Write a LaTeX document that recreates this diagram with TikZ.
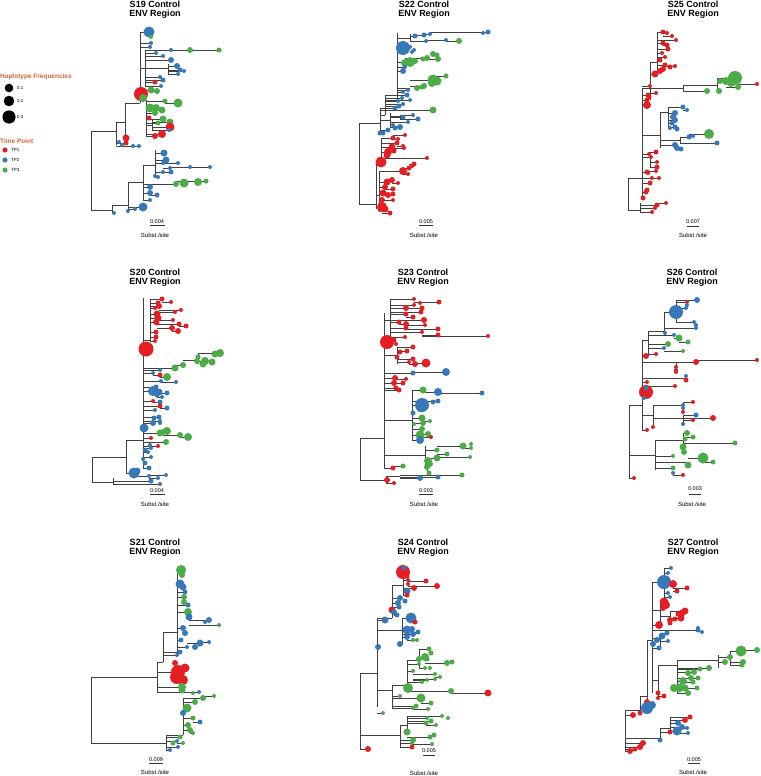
\documentclass[tikz,border=0pt]{standalone}
\usepackage{fontspec}
\setmainfont{Liberation Sans}
\definecolor{R}{RGB}{228,30,34}
\definecolor{B}{RGB}{55,120,185}
\definecolor{G}{RGB}{75,172,72}
\definecolor{legc}{RGB}{205,105,55}
\newif\ifdotpass
\tikzset{br/.style={draw=black!75,line width=0.55pt},
 ttl/.style={font=\bfseries\fontsize{9}{10}\selectfont,inner sep=0pt},
 sml/.style={font=\fontsize{5.5}{6}\selectfont,inner sep=0pt},
 sst/.style={font=\fontsize{6}{7}\selectfont,inner sep=0pt},
 legt/.style={font=\bfseries\fontsize{6.5}{7}\selectfont,text=legc,inner sep=0pt,anchor=west},
 legl/.style={font=\fontsize{4.5}{5}\selectfont,inner sep=0pt,anchor=west}}
\newcommand\tp[5]{\ifdotpass\fill[#4] (#2,#3) circle[radius=#5pt];\else\draw[br] (#1,#3) -- (#2,#3);\fi}
\newcommand\dt[4]{\ifdotpass\fill[#3] (#1,#2) circle[radius=#4pt];\fi}
\newcommand\vs[3]{\ifdotpass\else\draw[br] (#1,#2) -- (#1,#3);\fi}
\newcommand\hs[3]{\ifdotpass\else\draw[br] (#1,#3) -- (#2,#3);\fi}
\newcommand\panel[5]{%
 \node[ttl] (#4a) at (#1,#2) {#5 Control};
 \node[ttl] (#4b) at (#1,#3) {ENV Region};}
\newcommand\scl[6]{%
 \node[sml] (sc#3#1) at (#1,#2) {#3};
 \draw[black!80,line width=0.5pt] (#4,#6) -- (#5,#6);}
\newcommand\treedata{%
% ================= S19
\vs{91}{131}{210}\hs{91}{116}{131}\vs{116}{122}{145}\hs{116}{125}{122}
\vs{125}{103}{138}\hs{125}{140}{103}\vs{140}{32}{103}\hs{140}{146}{100}
\vs{146}{100}{136}\vs{145}{50}{86}\hs{140}{145}{68}\hs{145}{168}{68}\vs{168}{64}{74}
\vs{152}{120}{130}\hs{146}{152}{125}
\tp{140}{149}{32}{B}{5.5}\tp{149}{151}{37}{G}{2}\tp{140}{151}{43}{B}{2}\tp{140}{150}{47}{B}{2}
\tp{145}{156}{53}{B}{2}\tp{145}{163}{56}{B}{2}\tp{145}{171}{50}{B}{2}\tp{171}{190}{50}{G}{3}\tp{190}{219}{50}{G}{2.5}
\tp{145}{171}{60}{B}{3}\tp{168}{177}{66}{B}{3}\tp{168}{180}{70}{B}{2.5}\tp{168}{184}{71}{B}{2}\tp{168}{178}{74}{B}{2}
\tp{145}{163}{80}{B}{2.5}\tp{145}{160}{77}{B}{2}\tp{145}{155}{82}{R}{2.5}\tp{145}{161}{86}{B}{2}
\tp{140}{141}{94}{R}{7}\tp{140}{151}{90}{G}{3.5}\tp{151}{157}{91}{G}{3}\tp{140}{143}{98}{G}{4}
\tp{146}{165}{101}{G}{2.5}\tp{165}{178}{103}{G}{4.5}\tp{146}{150}{108}{G}{4.5}\tp{146}{156}{108}{G}{4}
\tp{146}{162}{110}{G}{3.5}\tp{146}{155}{113}{G}{3}\tp{146}{149}{118}{R}{2.5}\tp{146}{163}{119}{G}{3.5}
\tp{152}{170}{122}{G}{3.5}\tp{146}{158}{123}{G}{2.5}\tp{152}{170}{127}{R}{4.5}\tp{152}{169}{130}{B}{2}
\tp{146}{162}{134}{R}{4}\tp{146}{155}{136}{R}{3}
\tp{125}{126}{138}{R}{3.5}\tp{116}{126}{143}{R}{2.5}\tp{116}{119}{142}{B}{2}\tp{116}{139}{146}{B}{2}
\dt{122}{145}{B}{2}\dt{133}{146}{B}{2}
\hs{91}{112}{210}\vs{112}{205}{213}\tp{112}{114}{213}{B}{2}\hs{112}{128}{205}\vs{128}{182}{211}
\tp{128}{143}{207}{B}{4.5}\tp{128}{135}{209}{B}{2}\dt{128}{211}{B}{2}
\hs{128}{143}{182}\vs{143}{165}{200}
\tp{143}{150}{187}{B}{3}\tp{143}{150}{193}{B}{3}\tp{150}{157}{195}{B}{2.5}\tp{143}{150}{200}{B}{2}
\tp{143}{176}{184}{G}{3}\dt{184}{183}{G}{4.5}\dt{198}{182}{G}{4}\tp{176}{206}{181}{G}{2.5}
\hs{143}{155}{165}\vs{155}{150}{178}
\tp{155}{164}{153}{B}{3.5}\tp{155}{166}{160}{B}{3.5}\tp{155}{163}{163}{B}{2}\tp{163}{178}{163}{B}{2}
\tp{163}{170}{168}{B}{2}\tp{170}{210}{167}{B}{2}\dt{190}{167}{B}{2}
\tp{155}{163}{172}{B}{2}\tp{155}{171}{172}{B}{2.5}\tp{155}{158}{177}{B}{2}\dt{155}{176}{B}{2}
% ================= S22
\vs{359}{123}{204}\hs{359}{380}{123}\vs{380}{108}{133}\hs{380}{385}{115}\vs{385}{95}{115}
\hs{385}{397}{95}\vs{397}{33}{100}\hs{359}{376}{204}\vs{376}{162}{209}\hs{376}{381}{162}
\vs{381}{138}{162}\hs{376}{379}{195}\vs{379}{171}{212}
\tp{397}{403}{48}{B}{7}\dt{410}{47}{B}{2}\dt{412}{52}{B}{2}\dt{414}{50}{B}{2}
\hs{397}{410}{38}\vs{410}{34}{42}
\tp{410}{415}{36}{B}{2.5}\tp{415}{424}{35}{B}{2.5}\tp{424}{430}{34}{B}{2}\tp{430}{488}{32}{B}{2.5}\dt{483}{33}{B}{2}
\tp{410}{426}{41}{B}{2}\tp{426}{446}{40}{B}{2}\tp{446}{459}{41}{G}{3}
\hs{397}{405}{62}\dt{410}{62}{G}{5}\dt{405}{63}{G}{4}\dt{415}{61}{G}{3}
\tp{405}{427}{58}{G}{3}\tp{427}{438}{59}{G}{3}\dt{433}{54}{G}{3}\dt{437}{55}{G}{2.5}\dt{423}{59}{G}{2.5}
\tp{397}{403}{71}{B}{3}\tp{397}{405}{67}{B}{2}
\hs{397}{410}{88}\tp{410}{424}{86}{G}{3}\tp{410}{433}{80}{G}{5.5}\dt{437}{81}{G}{4.5}\dt{432}{83}{G}{4}
\tp{437}{446}{76}{G}{2.5}\dt{417}{88}{G}{3}\dt{422}{87}{G}{2.5}
\tp{397}{408}{90}{B}{2}\tp{397}{403}{92}{B}{2}\tp{385}{407}{95}{B}{2.5}\tp{385}{402}{98}{B}{2}
\tp{385}{410}{100}{B}{2}\tp{385}{398}{101}{B}{2}\tp{385}{399}{106}{B}{2.5}\tp{380}{395}{108}{B}{2.5}\tp{385}{403}{104}{B}{2}
\tp{380}{433}{110}{G}{3.5}\vs{390}{113}{128}\hs{380}{390}{120}\hs{390}{400}{116}\vs{400}{115}{119}
\tp{400}{418}{119}{B}{2.5}\tp{400}{413}{115}{B}{2}\tp{390}{403}{117}{B}{2.5}\tp{390}{408}{122}{B}{2}
\tp{390}{400}{127}{B}{3}\dt{395}{128}{B}{2.5}\tp{380}{388}{130}{B}{2.5}\dt{383}{133}{B}{2.5}\dt{380}{133}{B}{2.5}\tp{390}{393}{125}{B}{2}
\tp{381}{393}{138}{R}{2.5}\tp{393}{398}{139}{R}{2}\tp{393}{405}{135}{R}{2}\tp{381}{397}{143}{R}{2.5}
\tp{397}{403}{146}{R}{2}\tp{381}{392}{147}{R}{3.5}\tp{381}{388}{152}{R}{4}\dt{387}{155}{R}{3.5}
\tp{388}{394}{151}{R}{2.5}\tp{394}{404}{148}{R}{2}
\tp{381}{427}{158}{R}{2}\tp{376}{381}{162}{R}{5.5}
\tp{379}{403}{171}{R}{4}\tp{403}{409}{168}{R}{2.5}\tp{409}{414}{164}{R}{2.5}\tp{403}{408}{174}{R}{2}\dt{412}{166}{R}{2}
\tp{379}{387}{182}{R}{3.5}\tp{387}{392}{180}{R}{3}\tp{392}{398}{183}{R}{2}\tp{379}{385}{187}{R}{3}
\tp{385}{393}{189}{R}{2.5}\tp{379}{383}{193}{R}{3.5}\tp{383}{388}{195}{R}{3}\tp{388}{393}{194}{R}{2.5}
\tp{379}{382}{200}{R}{3}\tp{382}{393}{200}{R}{2}\tp{379}{382}{207}{R}{5}\dt{385}{209}{R}{3.5}
\tp{382}{390}{213}{R}{2.5}\dt{380}{209}{R}{2.5}
% ================= S25
\vs{628}{178}{210}\hs{628}{642}{178}\hs{628}{640}{210}\vs{642}{88}{198}\hs{642}{650}{88}
\vs{650}{62}{100}\hs{650}{657}{62}\vs{657}{32}{71}\vs{640}{203}{212}
\tp{657}{663}{32}{R}{2.5}\tp{663}{672}{36}{R}{2}\dt{667}{33}{R}{2}\tp{657}{676}{40}{R}{2}
\tp{657}{663}{43}{R}{2.5}\tp{663}{667}{45}{R}{2.5}\tp{657}{668}{49}{R}{2.5}\tp{657}{662}{53}{R}{2}
\tp{657}{665}{57}{R}{2}\tp{657}{660}{60}{R}{2.5}\tp{657}{665}{65}{R}{2.5}\tp{665}{675}{66}{R}{2}
\dt{670}{67}{R}{2.5}\tp{657}{663}{69}{R}{3}\dt{660}{71}{R}{3}
\tp{650}{655}{74}{R}{3.5}\tp{650}{656}{93}{R}{2}\tp{642}{650}{86}{R}{2}\tp{642}{648}{95}{R}{2.5}
\dt{649}{97}{R}{2.5}\tp{642}{647}{100}{R}{2.5}\tp{642}{647}{105}{R}{4}
\hs{650}{683}{88}\vs{683}{85}{91}\tp{683}{707}{91}{G}{3}\hs{683}{717}{85}\vs{717}{78}{91}
\tp{717}{735}{78}{G}{7}\tp{717}{726}{81}{G}{4}\dt{731}{83}{G}{4}\dt{720}{81}{G}{3}
\tp{726}{738}{87}{G}{3}\tp{717}{719}{91}{G}{3}\tp{738}{757}{84}{R}{2}
\hs{642}{660}{135}\vs{660}{112}{148}\hs{660}{668}{112}\vs{668}{107}{129}
\tp{668}{683}{107}{B}{2.5}\tp{683}{687}{110}{B}{2}\tp{668}{675}{113}{B}{3}\dt{673}{117}{B}{3}
\tp{668}{675}{120}{B}{3}\tp{668}{672}{123}{B}{2.5}\tp{668}{675}{127}{B}{2.5}\dt{670}{128}{B}{2}\dt{677}{129}{B}{2.5}
\hs{660}{680}{140}\vs{680}{137}{143}\tp{680}{689}{137}{B}{2.5}\tp{689}{709}{134}{G}{5}\dt{693}{136}{B}{2}
\tp{680}{717}{143}{B}{2.5}\tp{660}{675}{145}{B}{3}\dt{677}{148}{B}{3}\dt{681}{149}{B}{2.5}
\tp{642}{649}{154}{R}{2}\tp{649}{656}{152}{R}{2.5}\tp{642}{651}{157}{R}{2}\vs{650}{157}{167}
\tp{650}{657}{162}{R}{2}\tp{650}{657}{167}{R}{2.5}\tp{642}{647}{172}{R}{2.5}\tp{647}{656}{171}{R}{2}
\dt{648}{173}{R}{2}\tp{642}{652}{178}{R}{2}\tp{652}{659}{178}{R}{2}\tp{642}{650}{183}{R}{2.5}
\tp{642}{646}{192}{R}{2.5}\dt{647}{190}{R}{2.5}\dt{643}{198}{R}{2.5}
\tp{640}{657}{205}{R}{2.5}\tp{657}{666}{203}{R}{2}\tp{640}{655}{208}{R}{2}\tp{640}{652}{212}{R}{2}
% ================= S20
\vs{92}{457}{482}\hs{92}{126}{457}\vs{126}{440}{473}\hs{126}{143}{440}\vs{143}{298}{468}
\hs{92}{113}{482}\vs{113}{478}{484}\vs{150}{299}{341}\hs{143}{150}{340}
\tp{150}{162}{299}{R}{2.5}\tp{162}{171}{302}{R}{2}\tp{150}{158}{303}{R}{2.5}\tp{150}{159}{306}{R}{3}
\tp{150}{155}{308}{R}{2}\tp{159}{181}{310}{R}{2}\tp{159}{175}{312}{R}{2}\tp{150}{157}{314}{R}{3.5}
\tp{150}{158}{318}{R}{3.5}\tp{150}{156}{322}{R}{3}\tp{158}{173}{320}{R}{2}\dt{157}{323}{R}{2.5}
\tp{157}{179}{324}{R}{2.5}\tp{179}{186}{326}{R}{2.5}\tp{157}{172}{328}{R}{3}\tp{172}{178}{331}{R}{3}
\tp{150}{156}{332}{R}{2.5}\tp{150}{156}{337}{R}{2.5}\tp{150}{155}{341}{R}{2}
\tp{143}{146}{349}{R}{7.5}
\tp{143}{175}{368}{G}{3.5}\tp{175}{183}{365}{G}{3}\hs{183}{198}{360}\vs{198}{353}{364}
\tp{198}{220}{353}{G}{4}\dt{215}{354}{G}{3.5}\tp{198}{205}{361}{G}{4}\dt{212}{362}{G}{3.5}
\dt{203}{364}{G}{3.5}\dt{197}{361}{G}{3}\dt{198}{357}{G}{2.5}
\tp{143}{160}{370}{B}{2}\tp{143}{153}{373}{B}{2}\tp{153}{160}{375}{R}{2.5}\tp{160}{167}{377}{G}{4}
\tp{143}{161}{381}{B}{2}\tp{161}{176}{382}{B}{2}\tp{143}{156}{387}{B}{2.5}\tp{143}{153}{391}{B}{5}
\dt{159}{392}{B}{3.5}\tp{159}{167}{393}{B}{2.5}\dt{157}{395}{B}{2.5}\tp{157}{162}{397}{B}{2}
\tp{143}{153}{401}{R}{2}\tp{153}{160}{402}{B}{2.5}\tp{143}{160}{406}{R}{2.5}\tp{160}{167}{408}{B}{2.5}
\tp{143}{155}{410}{B}{2}\tp{143}{159}{417}{B}{2.5}\dt{154}{418}{B}{2.5}\tp{143}{160}{421}{B}{2}
\tp{143}{153}{423}{B}{3}\dt{160}{423}{B}{2}\tp{143}{144}{428}{B}{4.5}
\tp{143}{160}{433}{G}{3.5}\dt{163}{432}{G}{3}\tp{163}{167}{431}{G}{4}\tp{163}{180}{435}{G}{3}
\tp{180}{188}{437}{G}{4}\tp{143}{166}{442}{G}{3}\tp{143}{151}{438}{R}{2}\tp{143}{158}{446}{R}{2}\dt{150}{445}{B}{2}
\tp{143}{151}{448}{B}{2}\tp{143}{145}{450}{B}{2.5}\tp{143}{148}{452}{B}{2}\tp{143}{151}{457}{B}{2}
\dt{143}{459}{B}{2}\tp{143}{145}{463}{B}{2.5}\tp{143}{149}{468}{B}{2.5}
\tp{126}{134}{473}{B}{5.5}\dt{137}{471}{B}{3.5}\tp{134}{149}{476}{B}{2}\tp{149}{158}{478}{B}{2}\tp{149}{166}{475}{B}{2}
\tp{113}{151}{481}{B}{2.5}\tp{113}{160}{484}{B}{2}
% ================= S23
\vs{360}{438}{480}\hs{360}{384}{438}\vs{384}{313}{468}\hs{360}{386}{480}\vs{386}{476}{484}
\vs{390}{299}{337}\hs{384}{390}{320}
\tp{390}{414}{299}{R}{2}\tp{414}{439}{302}{R}{2.5}\dt{420}{303}{R}{2}\tp{390}{414}{305}{R}{2}
\tp{390}{406}{308}{R}{3}\tp{406}{422}{308}{R}{2.5}\tp{390}{421}{312}{R}{2.5}\tp{390}{406}{314}{R}{2.5}
\tp{406}{413}{317}{R}{2.5}\tp{390}{424}{320}{R}{3}\tp{390}{399}{322}{R}{2.5}\tp{399}{406}{324}{R}{3}
\tp{390}{406}{328}{R}{2.5}\tp{406}{425}{325}{R}{2}\tp{406}{438}{329}{R}{2.5}\tp{390}{422}{332}{R}{2}
\tp{422}{438}{335}{R}{2.5}\tp{422}{488}{336}{R}{2}\tp{390}{405}{337}{R}{2}
\tp{384}{387}{342}{R}{7}\dt{394}{340}{R}{2.5}\dt{396}{344}{R}{2}
\hs{384}{397}{355}\vs{397}{347}{364}\tp{397}{413}{347}{R}{2.5}\tp{397}{407}{351}{R}{2.5}\dt{400}{352}{R}{2.5}
\dt{397}{357}{R}{2.5}\tp{397}{413}{359}{R}{2.5}\tp{397}{409}{362}{R}{2}\tp{409}{415}{364}{R}{3}\tp{415}{426}{363}{R}{4.5}
\tp{384}{413}{373}{B}{2.5}\tp{413}{446}{372}{B}{4}
\tp{384}{395}{378}{R}{3}\tp{395}{406}{379}{R}{2}\tp{384}{394}{383}{R}{3}\tp{394}{403}{383}{R}{2.5}
\tp{384}{396}{388}{R}{2.5}\tp{384}{399}{390}{R}{2.5}
\vs{412}{390}{440}\hs{384}{412}{420}
\tp{412}{423}{390}{G}{3.5}\tp{423}{438}{392}{B}{4}\tp{438}{482}{393}{B}{2.5}\tp{412}{438}{401}{B}{2.5}
\dt{433}{402}{B}{2.5}\tp{412}{422}{405}{B}{7}\dt{420}{409}{B}{3}\dt{413}{413}{B}{2.5}
\tp{412}{422}{418}{G}{3.5}\tp{422}{430}{421}{G}{2}\tp{412}{423}{423}{G}{3}\dt{414}{424}{G}{2}
\tp{412}{422}{429}{G}{3}\tp{412}{420}{435}{G}{4.5}\tp{420}{428}{434}{G}{3}\tp{412}{420}{440}{B}{4}\tp{420}{431}{437}{R}{2}
\hs{384}{425}{455}\vs{425}{446}{467}\tp{425}{437}{450}{G}{2.5}\tp{437}{463}{446}{G}{3.5}\dt{471}{444}{G}{2}
\tp{463}{471}{448}{G}{2}\tp{437}{447}{454}{G}{2.5}\tp{425}{437}{458}{G}{3.5}\tp{437}{470}{457}{G}{2}
\tp{425}{428}{461}{G}{4}\dt{430}{464}{G}{3}\dt{427}{467}{G}{3}\vs{427}{467}{473}\dt{429}{473}{G}{2.5}
\tp{384}{393}{468}{R}{2.5}\tp{393}{403}{466}{G}{2.5}
\hs{386}{400}{476}\tp{400}{462}{475}{G}{2.5}\tp{400}{438}{477}{B}{2.5}\tp{400}{420}{478}{B}{3}
\tp{386}{387}{480}{R}{3}\tp{386}{394}{483}{R}{2}
% ================= S26
\vs{629}{405}{478}\hs{629}{642}{405}\vs{642}{340}{430}\hs{629}{634}{478}
\hs{642}{648}{340}\vs{648}{331}{356}\hs{648}{664}{331}\vs{664}{312}{335}\hs{664}{676}{312}\vs{676}{300}{322}
\tp{676}{697}{300}{B}{3}\tp{676}{687}{302}{R}{2}\dt{687}{305}{B}{2}\tp{676}{686}{308}{B}{2}
\dt{676}{312}{B}{7}\tp{676}{694}{322}{B}{2}\tp{694}{696}{325}{B}{2}\tp{664}{696}{328}{B}{2}\dt{665}{333}{B}{2}
\tp{648}{674}{335}{B}{2}\tp{674}{679}{338}{G}{3.5}\tp{679}{688}{342}{G}{2.5}\tp{648}{668}{344}{G}{3}
\tp{648}{664}{348}{B}{2}\tp{664}{683}{351}{G}{2}\tp{648}{656}{354}{R}{2}
\tp{642}{646}{356}{R}{3}
\hs{642}{676}{362}\vs{676}{362}{372}\tp{676}{696}{362}{R}{3}\tp{696}{757}{360}{R}{2}
\dt{676}{367}{R}{2}\dt{676}{370}{R}{2}\dt{676}{372}{R}{2}
\hs{642}{686}{378}\dt{686}{376}{B}{2}\dt{686}{380}{R}{2.5}
\tp{642}{647}{382}{R}{2}\tp{642}{675}{386}{R}{2}\tp{642}{646}{392}{R}{7}\dt{646}{388}{B}{2.5}\dt{644}{398}{B}{2}
\hs{642}{653}{415}\vs{653}{405}{428}\hs{653}{683}{405}\vs{683}{402}{412}
\tp{683}{693}{402}{R}{2}\dt{683}{405}{B}{2}\dt{683}{408}{B}{2}\dt{683}{412}{R}{2}
\hs{653}{683}{418}\vs{683}{415}{424}\tp{683}{696}{415}{B}{2.5}\tp{683}{713}{418}{R}{3}
\tp{683}{693}{420}{R}{2}\dt{683}{424}{B}{2}\tp{653}{653}{427}{R}{2}\tp{642}{647}{430}{R}{2}
\hs{629}{655}{455}\vs{655}{440}{470}\hs{655}{683}{440}\vs{683}{433}{452}
\tp{683}{687}{433}{G}{3}\tp{687}{693}{437}{G}{2.5}\dt{685}{439}{G}{2.5}\tp{683}{735}{443}{G}{2.5}
\dt{683}{447}{G}{3.5}\dt{684}{452}{G}{3}\tp{655}{673}{456}{G}{2}\hs{655}{688}{462}
\tp{688}{703}{458}{G}{5.5}\tp{703}{713}{462}{G}{2.5}\dt{688}{465}{G}{3.5}\tp{655}{673}{468}{G}{2.5}
\dt{673}{473}{B}{2}\tp{673}{683}{475}{R}{2}\tp{629}{634}{478}{R}{2}
% ================= S21
\vs{91}{677}{743}\hs{91}{157}{677}\vs{157}{662}{692}\hs{157}{163}{662}\vs{163}{632}{662}
\hs{163}{177}{632}\vs{177}{570}{655}
\tp{177}{181}{570}{G}{5}\dt{182}{575}{G}{3}\tp{177}{180}{584}{B}{4.5}\dt{183}{587}{B}{3.5}
\tp{177}{185}{592}{B}{2.5}\tp{177}{184}{597}{G}{3}\dt{184}{602}{G}{3}\tp{177}{188}{605}{B}{2.5}
\tp{177}{188}{612}{G}{4}\dt{189}{617}{B}{3.5}\tp{189}{209}{620}{B}{3}\dt{205}{622}{B}{2}\tp{189}{219}{625}{G}{2}
\tp{177}{183}{628}{B}{3}\dt{185}{633}{B}{3}\tp{177}{181}{640}{B}{2.5}\tp{177}{187}{647}{B}{2}
\tp{187}{200}{643}{B}{3.5}\dt{195}{647}{B}{3}\tp{200}{209}{642}{B}{2}\tp{163}{180}{652}{B}{2.5}\tp{163}{177}{655}{B}{2}
\tp{157}{178}{672}{R}{7}\dt{177}{677}{R}{7}\dt{183}{680}{R}{5}\dt{185}{668}{R}{4.5}\dt{175}{663}{R}{3}
\tp{157}{182}{687}{G}{4}\dt{182}{690}{G}{3.5}\tp{157}{199}{692}{B}{2}\dt{193}{693}{G}{2}
\hs{91}{166}{743}\vs{166}{735}{750}\hs{166}{183}{735}\vs{183}{698}{735}
\tp{183}{203}{698}{G}{3}\tp{203}{214}{696}{G}{2}\tp{183}{195}{702}{G}{3}\tp{183}{187}{708}{G}{4.5}
\dt{183}{713}{B}{3}\tp{183}{193}{718}{G}{2.5}\tp{193}{200}{722}{B}{2.5}\tp{183}{188}{725}{G}{3}
\tp{183}{190}{730}{G}{3}\tp{190}{193}{733}{G}{2}\tp{166}{180}{737}{G}{2.5}\tp{166}{177}{741}{B}{2}
\dt{173}{743}{G}{2.5}\tp{166}{178}{747}{B}{2}\tp{166}{170}{750}{B}{2}\tp{177}{183}{743}{G}{2}
% ================= S24
\vs{360}{673}{749}\hs{360}{377}{673}\vs{377}{618}{707}\hs{377}{392}{618}\vs{392}{585}{618}
\hs{392}{403}{585}\vs{403}{572}{595}
\dt{403}{572}{R}{7}\dt{404}{568}{B}{2.5}\tp{403}{407}{576}{R}{2.5}\tp{403}{408}{580}{R}{2}
\tp{408}{426}{581}{R}{2.5}\tp{408}{437}{586}{R}{3}\dt{408}{584}{R}{2}\tp{403}{414}{588}{R}{3}
\tp{403}{407}{591}{B}{3.5}\tp{403}{407}{595}{R}{2.5}\tp{392}{400}{598}{B}{3}\dt{405}{601}{B}{2.5}
\tp{392}{398}{603}{B}{3}\tp{392}{399}{607}{B}{2.5}\dt{392}{610}{R}{3.5}\tp{392}{394}{612}{B}{3}\tp{394}{397}{615}{B}{2.5}
\tp{377}{385}{620}{B}{3.5}
\hs{377}{402}{630}\vs{402}{618}{644}\tp{402}{411}{618}{B}{5.5}\tp{411}{415}{622}{R}{2.5}
\tp{402}{407}{630}{B}{4.5}\dt{412}{629}{B}{3}\tp{412}{418}{632}{B}{2.5}\tp{402}{413}{634}{B}{3}
\tp{402}{407}{637}{B}{3}\tp{407}{417}{640}{G}{2}\dt{413}{640}{G}{2}\dt{400}{644}{B}{3}\dt{378}{647}{B}{3}
\hs{377}{392}{690}\vs{392}{685}{708}\hs{392}{407}{685}\vs{407}{660}{690}\hs{407}{419}{660}\vs{419}{649}{668}
\tp{419}{429}{649}{G}{2.5}\dt{431}{653}{G}{2.5}\tp{419}{425}{657}{G}{4}\dt{419}{659}{G}{3}\dt{427}{659}{G}{2.5}
\tp{425}{447}{663}{G}{3}\tp{447}{452}{662}{G}{2.5}\tp{407}{419}{664}{G}{2}\tp{419}{425}{668}{G}{2}\dt{430}{668}{G}{2}
\tp{407}{413}{671}{G}{2}\tp{413}{435}{674}{G}{2}\tp{435}{440}{677}{G}{2}\tp{413}{435}{679}{G}{2}
\tp{413}{427}{680}{G}{2}\tp{407}{422}{682}{G}{2}\tp{407}{408}{688}{G}{5}\tp{408}{451}{691}{G}{3}
\tp{451}{488}{693}{R}{3.5}\tp{392}{400}{696}{G}{2}\tp{392}{421}{698}{G}{4.5}\tp{421}{431}{703}{G}{2.5}
\tp{392}{416}{706}{G}{2.5}\tp{392}{413}{708}{G}{2}\tp{413}{428}{709}{G}{2}\tp{377}{383}{713}{G}{2}
\hs{360}{400}{735}\vs{400}{725}{747}\hs{400}{407}{725}\vs{407}{716}{732}
\tp{407}{442}{716}{G}{2}\dt{448}{718}{G}{2}\tp{407}{427}{718}{G}{2}\tp{407}{431}{721}{G}{2.5}
\tp{407}{426}{723}{G}{2.5}\tp{426}{436}{725}{G}{2}\dt{407}{732}{G}{3.5}\tp{407}{430}{737}{G}{2.5}
\dt{434}{735}{G}{2.5}\tp{400}{413}{740}{G}{3}\tp{400}{412}{743}{G}{2}\tp{412}{432}{744}{G}{2}
\tp{400}{412}{747}{R}{2.5}\tp{360}{368}{749}{R}{3}
% ================= S27
\vs{625}{710}{751}\hs{625}{640}{710}\vs{640}{696}{713}\hs{640}{647}{696}\vs{647}{640}{708}
\hs{647}{652}{640}\vs{652}{582}{693}
\hs{652}{664}{582}\vs{664}{568}{597}\tp{664}{671}{568}{B}{2}\tp{664}{668}{573}{B}{2}\dt{667}{578}{B}{2}
\dt{664}{582}{B}{7}\tp{664}{673}{584}{R}{4}\tp{673}{677}{591}{R}{2.5}\tp{673}{687}{588}{R}{2.5}
\tp{664}{668}{593}{B}{2}\tp{664}{670}{597}{B}{2}
\hs{652}{660}{610}\vs{660}{602}{625}\tp{660}{664}{602}{R}{4.5}\tp{660}{666}{605}{R}{4}\tp{660}{663}{608}{R}{3}
\hs{660}{670}{616}\vs{670}{611}{623}\tp{670}{685}{611}{R}{3.5}\dt{682}{613}{R}{3.5}\dt{678}{614}{R}{2.5}
\tp{670}{681}{618}{R}{3.5}\dt{675}{619}{R}{2.5}\dt{670}{620}{R}{3}\dt{670}{623}{R}{2.5}\tp{652}{659}{625}{R}{4}
\tp{652}{698}{630}{B}{2.5}\dt{702}{632}{B}{2}\dt{698}{628}{B}{2}
\hs{652}{660}{638}\vs{660}{633}{648}\tp{660}{667}{633}{B}{2.5}\tp{660}{662}{636}{B}{3.5}\dt{657}{640}{B}{3}
\tp{660}{668}{641}{B}{2}\dt{653}{644}{B}{3}\tp{652}{659}{648}{B}{2.5}
\hs{652}{658}{680}\vs{658}{665}{698}\hs{658}{677}{665}\vs{677}{660}{693}\hs{677}{718}{660}
\vs{718}{655}{668}\hs{718}{730}{657}\vs{730}{651}{665}
\tp{730}{741}{651}{G}{5.5}\tp{741}{757}{650}{G}{3}\tp{730}{743}{662}{G}{3}\dt{730}{657}{G}{3}
\tp{718}{725}{662}{G}{3}\tp{730}{742}{665}{G}{2.5}
\tp{677}{709}{668}{G}{3}\tp{677}{700}{669}{G}{2.5}\tp{677}{694}{672}{G}{3}\dt{688}{673}{G}{3}
\tp{677}{691}{678}{G}{3}\tp{691}{698}{678}{G}{2.5}\tp{677}{683}{681}{G}{4}\tp{683}{693}{682}{G}{2.5}
\tp{677}{679}{688}{G}{4.5}\dt{685}{688}{G}{3.5}\dt{674}{688}{G}{4}\tp{685}{697}{688}{G}{2.5}\tp{677}{688}{693}{G}{3}
\dt{658}{693}{R}{2.5}\tp{658}{664}{696}{R}{2.5}\dt{658}{698}{R}{2}
\dt{647}{702}{R}{3}\tp{647}{652}{705}{B}{4}\dt{647}{708}{B}{6}\dt{640}{713}{R}{2.5}\tp{625}{633}{715}{R}{3}
\hs{625}{660}{738}\vs{660}{728}{740}\hs{660}{670}{728}\vs{670}{717}{732}
\tp{670}{690}{717}{R}{2.5}\tp{670}{685}{720}{R}{3}\tp{670}{678}{723}{B}{3}\tp{670}{682}{727}{B}{3}
\tp{670}{677}{731}{B}{4.5}\tp{682}{687}{728}{B}{2}\tp{677}{688}{733}{B}{2}\tp{660}{670}{732}{R}{2.5}
\dt{660}{740}{B}{2.5}\tp{625}{643}{743}{R}{3}\tp{625}{640}{747}{R}{3}\tp{625}{635}{749}{R}{2.5}\tp{625}{630}{751}{R}{3}
}
\begin{document}
\begin{tikzpicture}[x=1pt,y=-1pt]
\useasboundingbox[fill=white] (0,0) rectangle (760,776);
% ---------- titles
\panel{155}{4.5}{14.5}{t19}{S19}
\panel{424}{4.5}{14.5}{t22}{S22}
\panel{693}{4.5}{14.5}{t25}{S25}
\panel{155}{272}{282}{t20}{S20}
\panel{423}{272}{282}{t23}{S23}
\panel{692}{272}{282}{t26}{S26}
\panel{155}{542}{552}{t21}{S21}
\panel{423}{542}{552}{t24}{S24}
\panel{693}{542}{552}{t27}{S27}
% ---------- scale bars
\scl{157}{222}{0.004}{150}{165}{225}
\scl{426}{222}{0.005}{419}{433}{225}
\scl{693}{222}{0.007}{687}{699}{226}
\scl{157}{491}{0.004}{150}{165}{494}
\scl{426}{491}{0.003}{419}{433}{494}
\scl{695}{489}{0.003}{689}{701}{494}
\scl{156}{760}{0.009}{149}{163}{763}
\scl{429}{751}{0.005}{423}{435}{755}
\scl{694}{760}{0.005}{688}{700}{763}
\node[sst] (ss1) at (155,235) {Subst./site};
\node[sst] (ss2) at (424,235) {Subst./site};
\node[sst] (ss3) at (693,235) {Subst./site};
\node[sst] (ss4) at (155,504) {Subst./site};
\node[sst] (ss5) at (424,504) {Subst./site};
\node[sst] (ss6) at (692,504) {Subst./site};
\node[sst] (ss7) at (155,772) {Subst./site};
\node[sst] (ss8) at (424,773) {Subst./site};
\node[sst] (ss9) at (693,772) {Subst./site};
% ---------- legend
\node[legt] (lh) at (0,77) {Haplotype Frequencies};
\fill[black] (9,88) circle[radius=4.3pt];
\fill[black] (9,101) circle[radius=5.3pt];
\fill[black] (9,117) circle[radius=6.6pt];
\node[legl] (l1) at (17,88) {0.1};
\node[legl] (l2) at (17,101) {0.2};
\node[legl] (l3) at (17,117) {0.3};
\node[legt] (lt) at (0,141) {Time Point};
\fill[R] (5,150) circle[radius=2.6pt];
\fill[B] (5,160) circle[radius=2.6pt];
\fill[G] (5,170) circle[radius=2.6pt];
\node[legl] (p1) at (11,150) {TP1};
\node[legl] (p2) at (11,160) {TP2};
\node[legl] (p3) at (11,170) {TP3};
% ---------- trees: branches first, then dots
\dotpassfalse\treedata
\dotpasstrue\treedata
\end{tikzpicture}
\end{document}
